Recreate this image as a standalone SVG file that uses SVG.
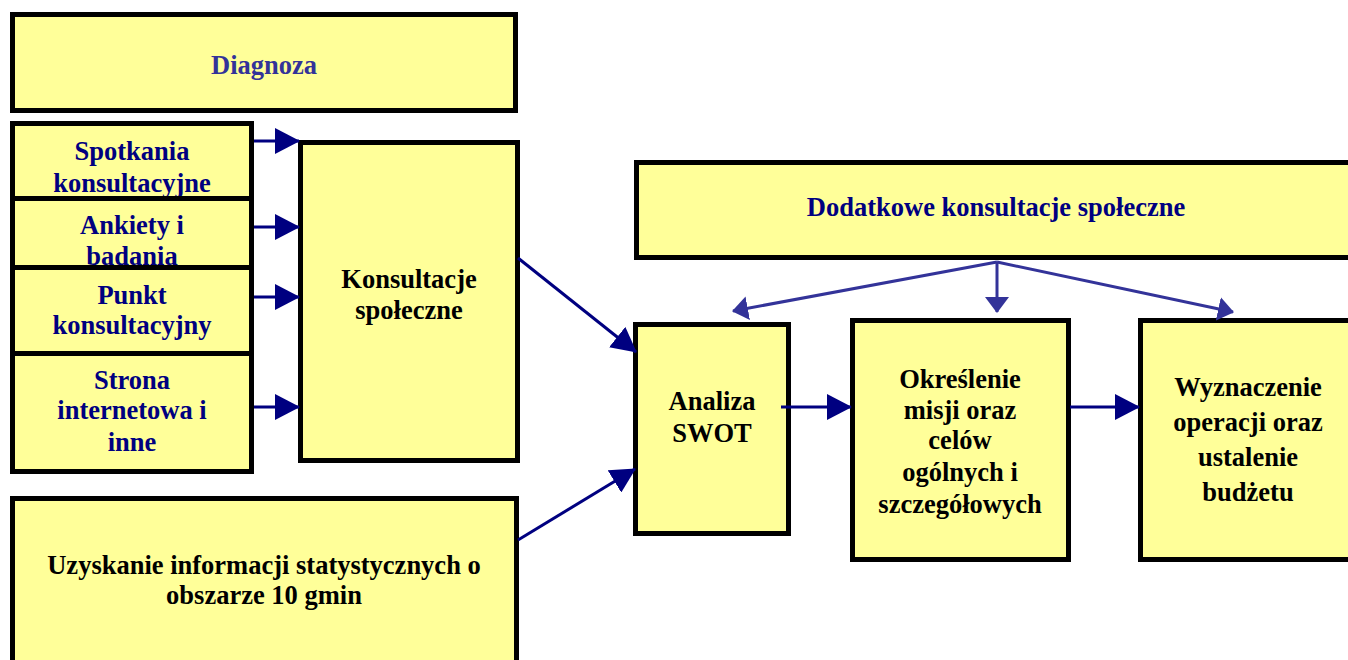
<svg xmlns="http://www.w3.org/2000/svg" width="1348" height="660" viewBox="0 0 1348 660">
<defs>
<style>
.box{fill:#FFFF99;stroke:#000;stroke-width:5}
.t{font-family:'Liberation Serif','Times New Roman',Tinos,serif;font-weight:700;font-size:26.5px;text-anchor:middle}
.nv{fill:#000080}
.pu{fill:#333399}
.bk{fill:#000}
.c1{stroke:#000080;stroke-width:3;fill:none;marker-end:url(#ah1)}
.c2{stroke:#333399;stroke-width:3;fill:none;marker-end:url(#ah2)}
</style>
<marker id="ah1" viewBox="0 0 25 26" refX="24" refY="13" markerWidth="25" markerHeight="26" markerUnits="userSpaceOnUse" orient="auto"><path d="M0,0 L25,13 L0,26 z" fill="#000080"/></marker>
<marker id="ah2" viewBox="0 0 16 24" refX="15" refY="12" markerWidth="16" markerHeight="24" markerUnits="userSpaceOnUse" orient="auto"><path d="M0,0 L16,12 L0,24 z" fill="#333399"/></marker>
</defs>
<rect width="1348" height="660" fill="#fff"/>
<g font-family="Liberation Serif, serif" font-weight="bold" font-size="26.5" text-anchor="middle">
<g id="diagnoza"><rect class="box" x="12.5" y="14.5" width="503" height="96"/><text class="t pu" x="264" y="74">Diagnoza</text></g>
<g id="spotkania"><rect class="box" x="12.5" y="123.5" width="239" height="76"/><text class="t nv" x="132" y="160">Spotkania</text><text class="t nv" x="132" y="192">konsultacyjne</text></g>
<g id="ankiety"><rect class="box" x="12.5" y="198.5" width="239" height="70"/><text class="t nv" x="132" y="234">Ankiety i</text><text class="t nv" x="132" y="265">badania</text></g>
<g id="punkt"><rect class="box" x="12.5" y="267.5" width="239" height="86"/><text class="t nv" x="132" y="304">Punkt</text><text class="t nv" x="132" y="334">konsultacyjny</text></g>
<g id="strona"><rect class="box" x="12.5" y="353.5" width="239" height="118"/><text class="t nv" x="132" y="389">Strona</text><text class="t nv" x="132" y="419">internetowa i</text><text class="t nv" x="132" y="451">inne</text></g>
<g id="konsultacje"><rect class="box" x="300.5" y="142.5" width="217" height="318"/><text class="t bk" x="409" y="288">Konsultacje</text><text class="t bk" x="409" y="319">społeczne</text></g>
<g id="uzyskanie"><rect class="box" x="12.5" y="498.5" width="504" height="200"/><text class="t bk" x="264" y="574">Uzyskanie informacji statystycznych o</text><text class="t bk" x="264" y="604">obszarze 10 gmin</text></g>
<g id="dodatkowe"><rect class="box" x="636.5" y="162.5" width="800" height="95"/><text class="t nv" x="996" y="216">Dodatkowe konsultacje społeczne</text></g>
<g id="swot"><rect class="box" x="635.5" y="324.5" width="153" height="209"/><text class="t bk" x="712" y="410">Analiza</text><text class="t bk" x="712" y="442">SWOT</text></g>
<g id="okreslenie"><rect class="box" x="852.5" y="320.5" width="216" height="239"/><text class="t bk" x="960" y="388">Określenie</text><text class="t bk" x="960" y="419">misji oraz</text><text class="t bk" x="960" y="449">celów</text><text class="t bk" x="960" y="481">ogólnych i</text><text class="t bk" x="960" y="513">szczegółowych</text></g>
<g id="wyznaczenie"><rect class="box" x="1140.5" y="320.5" width="300" height="239"/><text class="t bk" x="1248" y="396">Wyznaczenie</text><text class="t bk" x="1248" y="431">operacji oraz</text><text class="t bk" x="1248" y="466">ustalenie</text><text class="t bk" x="1248" y="501">budżetu</text></g>
</g>
<g id="connectors">
<path class="c1" d="M254,141 L299,141"/>
<path class="c1" d="M254,227 L299,227"/>
<path class="c1" d="M254,297 L299,297"/>
<path class="c1" d="M254,407 L299,407"/>
<path class="c1" d="M518,258 L636,352"/>
<path class="c1" d="M518,540 L635,469"/>
<path class="c1" d="M781,407 L851,407"/>
<path class="c1" d="M1070,407 L1139,407"/>
<path class="c2" d="M997,262 L733,311"/>
<path class="c2" d="M997,262 L997,312"/>
<path class="c2" d="M997,262 L1233,312"/>
</g>
</svg>
